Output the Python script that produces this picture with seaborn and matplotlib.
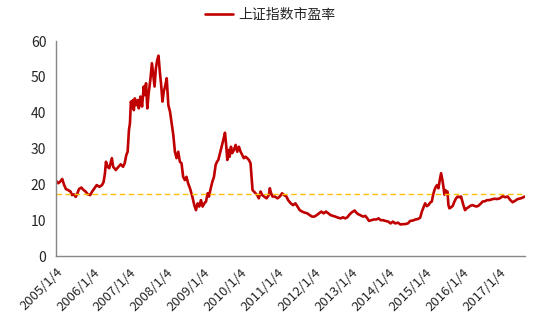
import numpy as np
import pandas as pd
import matplotlib
matplotlib.use("Agg")
import matplotlib.pyplot as plt
import seaborn as sns

# ---- data (decimal position within each year, measured from Jan 4) ----
t_year = [
    2005.000, 2005.062, 2005.107, 2005.169, 2005.214, 2005.267, 2005.329, 2005.392, 2005.436, 2005.490,
    2005.534, 2005.579, 2005.623, 2005.686, 2005.748, 2005.801, 2005.864, 2005.926, 2005.980,
    2006.042, 2006.104, 2006.175, 2006.247, 2006.291, 2006.327, 2006.354, 2006.398, 2006.443, 2006.487,
    2006.514, 2006.549, 2006.621, 2006.692, 2006.754, 2006.817, 2006.861, 2006.906, 2006.941, 2006.977,
    2007.004, 2007.030, 2007.057, 2007.084, 2007.110, 2007.137, 2007.173, 2007.217, 2007.244, 2007.288,
    2007.333, 2007.378, 2007.404, 2007.440, 2007.475, 2007.511, 2007.556, 2007.600, 2007.645, 2007.671,
    2007.707, 2007.743, 2007.778, 2007.814, 2007.850, 2007.885, 2007.921, 2007.956,
    2008.001, 2008.045, 2008.090, 2008.134, 2008.179, 2008.223, 2008.268, 2008.313, 2008.357, 2008.402,
    2008.446, 2008.491, 2008.535, 2008.580, 2008.631, 2008.694, 2008.748, 2008.793, 2008.838, 2008.883,
    2008.928, 2008.973,
    2009.018, 2009.063, 2009.108, 2009.144, 2009.180, 2009.234, 2009.279, 2009.324, 2009.360, 2009.396,
    2009.441, 2009.486, 2009.532, 2009.577, 2009.613, 2009.640, 2009.667, 2009.703, 2009.739, 2009.775,
    2009.820, 2009.865, 2009.910, 2009.955,
    2010.000, 2010.045, 2010.090, 2010.135, 2010.180, 2010.225, 2010.270, 2010.297, 2010.324, 2010.360,
    2010.405, 2010.450, 2010.495, 2010.541, 2010.586, 2010.640, 2010.703, 2010.766, 2010.793, 2010.820,
    2010.865, 2010.928,
    2011.000, 2011.063, 2011.126, 2011.180, 2011.243, 2011.288, 2011.360, 2011.423, 2011.486, 2011.541,
    2011.604, 2011.667, 2011.739, 2011.811, 2011.874, 2011.937,
    2012.000, 2012.063, 2012.126, 2012.189, 2012.252, 2012.315, 2012.378, 2012.441, 2012.505, 2012.568,
    2012.640, 2012.712, 2012.775, 2012.838, 2012.892, 2012.937,
    2013.000, 2013.045, 2013.090, 2013.135, 2013.180, 2013.243, 2013.315, 2013.378, 2013.432, 2013.477,
    2013.541, 2013.613, 2013.676, 2013.739, 2013.793, 2013.856, 2013.919,
    2014.000, 2014.063, 2014.126, 2014.189, 2014.261, 2014.333, 2014.396, 2014.459, 2014.532, 2014.595,
    2014.667, 2014.739, 2014.802, 2014.865, 2014.910, 2014.955,
    2015.000, 2015.045, 2015.090, 2015.135, 2015.180, 2015.216, 2015.252, 2015.288, 2015.324, 2015.360,
    2015.396, 2015.432, 2015.468, 2015.495, 2015.523, 2015.550, 2015.577, 2015.604, 2015.631, 2015.658,
    2015.703, 2015.748, 2015.793, 2015.838, 2015.883, 2015.928, 2015.973,
    2016.000, 2016.036, 2016.081, 2016.126, 2016.171, 2016.225, 2016.279, 2016.333, 2016.387, 2016.441,
    2016.495, 2016.559, 2016.622, 2016.676, 2016.739, 2016.802, 2016.874, 2016.937,
    2017.000, 2017.050, 2017.099, 2017.170, 2017.234, 2017.306, 2017.369, 2017.432, 2017.505, 2017.595,
    2017.703,
]

pe_ratio = [
    21.0, 20.3, 20.7, 21.5, 20.0, 18.7, 18.4, 18.0, 17.0, 17.2,
    16.5, 17.5, 18.7, 19.1, 18.4, 18.0, 17.2, 17.0, 18.0,
    18.9, 19.8, 19.3, 19.8, 20.7, 23.1, 26.3, 24.9, 24.5, 26.3,
    27.3, 24.9, 24.0, 24.9, 25.6, 24.9, 25.9, 28.2, 29.1, 35.2,
    37.0, 43.1, 41.7, 43.5, 40.7, 44.0, 42.1, 43.5, 41.2, 44.5,
    41.7, 47.3, 44.9, 48.2, 41.2, 45.4, 49.1, 53.8, 49.6, 47.3,
    52.4, 54.7, 55.9, 51.4, 47.7, 43.1, 45.9, 47.3,
    49.6, 42.1, 40.3, 37.0, 33.8, 29.1, 27.3, 29.1, 26.3, 25.9,
    22.1, 21.2, 22.1, 20.3, 18.9, 16.6, 14.2, 12.8, 14.7, 13.8,
    15.6, 13.8,
    14.7, 15.2, 17.5, 16.6, 18.4, 20.7, 22.1, 25.4, 26.3, 26.8,
    28.7, 30.5, 32.4, 34.4, 30.5, 26.8, 29.6, 27.7, 30.5, 28.7,
    29.6, 31.0, 29.1, 30.5,
    29.1, 28.2, 27.3, 27.7, 27.3, 26.8, 25.9, 22.1, 18.4, 18.0,
    17.5, 17.0, 16.1, 18.0, 17.0, 16.6, 16.1, 17.0, 18.9, 17.7,
    16.6, 16.6,
    16.1, 16.6, 17.5, 17.0, 16.6, 15.6, 14.7, 14.2, 14.7, 13.8,
    12.8, 12.4, 12.1, 11.9, 11.4, 11.0,
    11.0, 11.4, 11.9, 12.4, 11.9, 12.4, 11.9, 11.4, 11.2, 11.0,
    10.7, 10.5, 10.8, 10.5, 10.8, 11.4,
    12.1, 12.4, 12.7, 12.1, 11.7, 11.4, 11.0, 11.2, 10.5, 9.8,
    10.0, 10.2, 10.2, 10.5, 10.0, 10.0, 9.8,
    9.6, 9.1, 9.6, 9.1, 9.3, 8.8, 8.9, 8.9, 9.1, 9.8,
    9.9, 10.2, 10.3, 10.7, 12.4, 13.6,
    14.7, 13.9, 14.2, 14.9, 15.2, 17.1, 18.4, 19.3, 19.8, 18.9,
    21.2, 23.1, 21.2, 19.3, 17.1, 18.4, 17.5, 18.0, 14.2, 13.3,
    13.6, 14.0, 15.2, 16.1, 16.6, 16.4, 16.6,
    15.6, 14.2, 12.8, 13.3, 13.6, 14.0, 14.2, 14.0, 13.8, 14.0,
    14.5, 15.2, 15.3, 15.6, 15.6, 15.8, 16.0, 15.9,
    16.0, 16.3, 16.7, 16.4, 16.6, 15.6, 15.0, 15.4, 15.9, 16.1,
    16.6,
]

tick_years = list(range(2005, 2018))
tick_labels = [f"{y}/1/4" for y in tick_years]
y_ticks = [0, 10, 20, 30, 40, 50, 60]
mean_level = 17.4
series_name = "上证指数市盈率"

# ---- build dates ----
def to_date(y):
    yi = int(y)
    return pd.Timestamp(f"{yi}-01-04") + pd.Timedelta(days=(y - yi) * 365.25)

df = pd.DataFrame({"date": [to_date(y) for y in t_year], "pe": pe_ratio})

sns.set_style("white")
plt.rcParams["font.family"] = ["Noto Sans CJK SC", "DejaVu Sans"]

fig = plt.figure(figsize=(5.4, 3.27), dpi=100)
ax = fig.add_axes([0.1037, 0.2171, 0.9722 - 0.1037, 0.8746 - 0.2171])

sns.lineplot(data=df, x="date", y="pe", ax=ax, color="#C00000", linewidth=1.9,
             label=series_name, legend=False)
ax.axhline(mean_level, color="#FFC000", linewidth=1.0, linestyle=(0, (4, 2.5)))

ax.set_xlim(to_date(2005.0), df["date"].iloc[-1])
ax.set_ylim(0, 60)
ax.set_yticks(y_ticks)
ax.set_yticklabels([str(v) for v in y_ticks], fontsize=10, color="#262626")
ax.set_xticks([pd.Timestamp(f"{y}-01-04") for y in tick_years])
ax.set_xticklabels(tick_labels, fontsize=9.5, color="#262626", rotation=45,
                   ha="right", va="top", rotation_mode="anchor")
ax.set_xlabel("")
ax.set_ylabel("")

for side in ["top", "right"]:
    ax.spines[side].set_visible(False)
for side in ["left", "bottom"]:
    ax.spines[side].set_color("#868686")
    ax.spines[side].set_linewidth(1.0)
ax.tick_params(axis="both", which="major", direction="out", length=4,
               width=1.0, color="#868686", pad=3)
ax.grid(False)

handles, labels = ax.get_legend_handles_labels()
fig.legend(handles[:1], labels[:1], loc="center", bbox_to_anchor=(0.5, 0.955),
           frameon=False, fontsize=10, handlelength=2.0, handletextpad=0.4)

fig.savefig("out.png", dpi=100)
